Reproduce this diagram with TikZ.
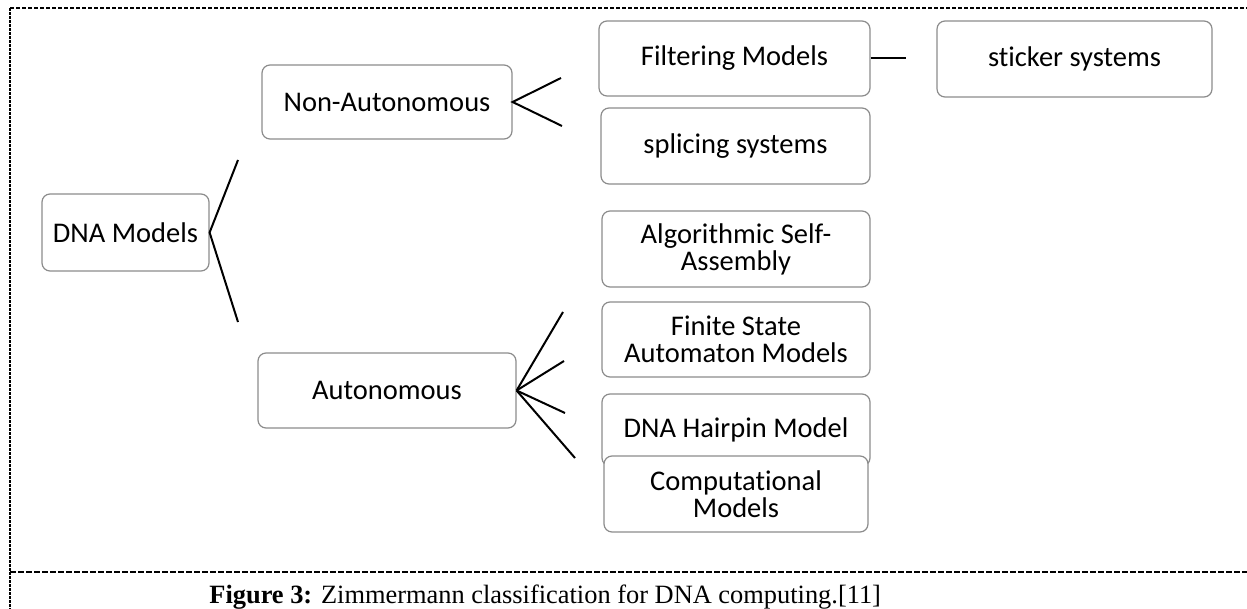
\documentclass[tikz,border=0pt]{standalone}
\usepackage{fontspec}
\setmainfont{Carlito}[Ligatures=CommonOff]
\newfontfamily\capfont{Liberation Serif}
\definecolor{boxgray}{RGB}{140,140,140}
\begin{document}
\begin{tikzpicture}[x=0.5pt,y=-0.5pt,
  box/.style={draw=boxgray, line width=0.6pt, rounded corners=4pt, fill=white,
    inner sep=0pt, align=center, font=\fontsize{14.25}{13.5}\selectfont},
  link/.style={line width=1pt, draw=black},
  frametop/.style={line width=0.75pt, dash pattern=on 2pt off 1pt},
  frameleft/.style={line width=1pt, dash pattern=on 1.5pt off 0.5pt},
  framebot/.style={line width=1.2pt, dash pattern=on 3pt off 1pt}]
\useasboundingbox (0,0) rectangle (1247,609);
% frame
\coordinate (tl) at (10,8);
\coordinate (tr) at (1247,8);
\coordinate (bl) at (10,609);
\coordinate (ml) at (10,572);
\coordinate (mr) at (1247,572);
\draw[frametop] (tl) -- (tr);
\draw[frameleft] (tl) -- (bl);
\draw[framebot] (ml) -- (mr);
% boxes
\node[box, minimum width=83.5pt, minimum height=38.5pt] (dna) at (125.5,232.5) {DNA Models};
\node[box, minimum width=125pt, minimum height=37pt] (nonauto) at (387,102) {Non-Autonomous};
\node[box, minimum width=129pt, minimum height=37.5pt] (auto) at (387,390.5) {Autonomous};
\node[box, minimum width=135.5pt, minimum height=37.5pt] (filt) at (734.5,58.5) {Filtering Models};
\node[box, minimum width=137.5pt, minimum height=38pt] (stick) at (1074.5,59) {sticker systems};
\node[box, minimum width=134.5pt, minimum height=38pt] (splic) at (735.5,146) {splicing systems};
\node[box, minimum width=134pt, minimum height=38pt] (algo) at (736,249) {Algorithmic Self-\\Assembly};
\node[box, minimum width=134pt, minimum height=37.5pt] (fsa) at (736,339.5) {Finite State\\Automaton Models};
\node[box, minimum width=134pt, minimum height=36pt] (hair) at (736,430) {\raisebox{-1.5pt}{DNA Hairpin Model}};
\node[box, minimum width=132pt, minimum height=38pt] (comp) at (736,494) {Computational\\Models};
% free ends of connectors
\coordinate (d1) at (238,160);
\coordinate (d2) at (238,322);
\coordinate (n1) at (561,78);
\coordinate (n2) at (562,126);
\coordinate (a1) at (563,312);
\coordinate (a2) at (564,361);
\coordinate (a3) at (565,413);
\coordinate (a4) at (575,458);
\coordinate (f1) at (906,58.5);
% connectors
\draw[link] (d1) -- (dna.east) -- (d2);
\draw[link] (n1) -- (nonauto.east) -- (n2);
\draw[link] (auto.east) -- (a1);
\draw[link] (auto.east) -- (a2);
\draw[link] (auto.east) -- (a3);
\draw[link] (auto.east) -- (a4);
\draw[link] (filt.east) -- (f1);
% caption
\node[anchor=base west, inner sep=0pt, font=\capfont\fontsize{13.2}{15}\selectfont] (cap) at (209,603)
  {\textbf{Figure 3:} Zimmermann classification for DNA computing.[11]};
\end{tikzpicture}
\end{document}
